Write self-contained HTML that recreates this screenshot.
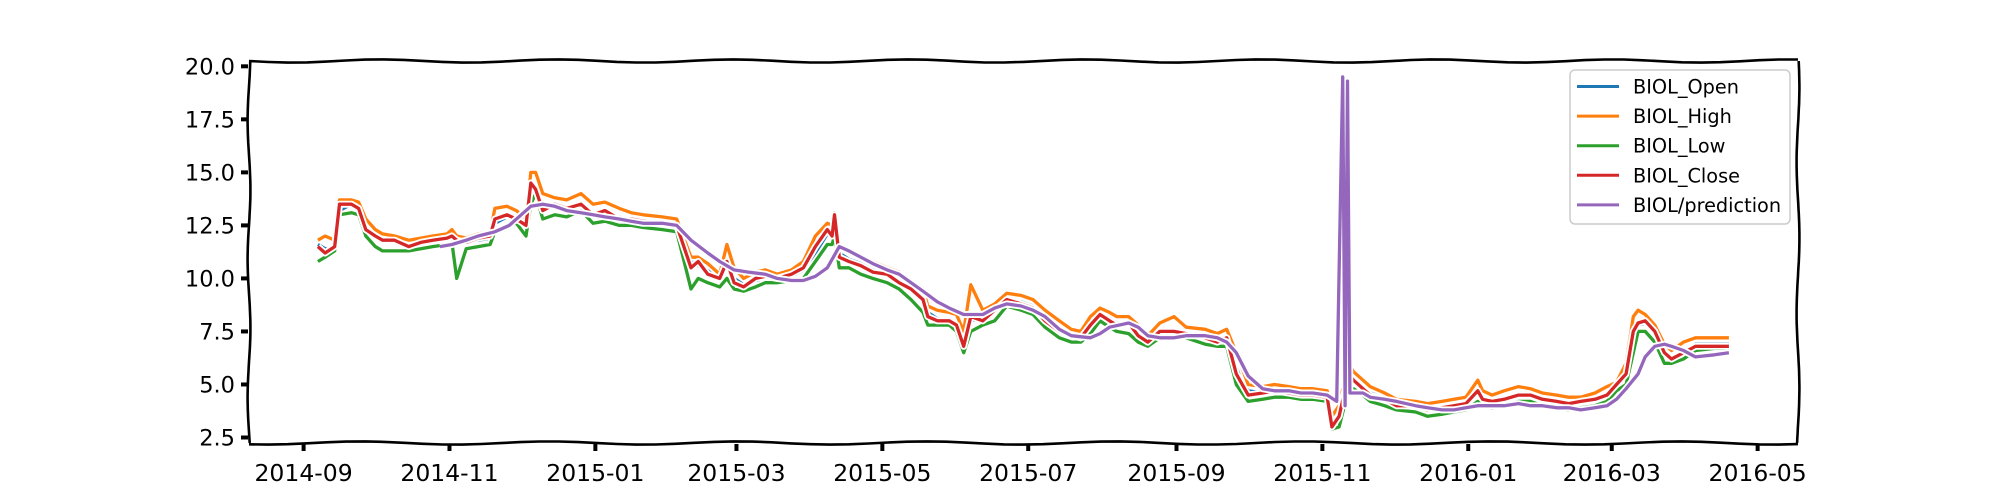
<!DOCTYPE html>
<html><head><meta charset="utf-8"><style>
body{margin:0;background:#fff;}
svg{display:block;font-family:"DejaVu Sans","Liberation Sans",sans-serif;}
</style></head><body>
<svg id="chart" width="2000" height="500" viewBox="0 0 2000 500" xmlns="http://www.w3.org/2000/svg">
<rect width="2000" height="500" fill="#fff"/>
<g id="series"></g>
<g id="frame"></g>
<g id="xaxis"></g>
<g id="yaxis"></g>
<g id="legend"></g>
</svg>
<script>
const startDate = "2014-09-01";
const days = [6,9,13,15,20,23,26,30,33,38,44,49,54,60,62,64,68,73,78,80,85,89,93,95,97,100,105,110,116,121,126,132,137,142,150,156,162,165,169,174,177,180,184,189,193,198,204,209,214,219,221,222,224,228,233,238,244,249,254,259,261,265,270,273,276,279,284,289,294,300,305,310,316,321,325,329,333,337,340,345,349,353,358,364,369,377,382,386,390,395,401,406,412,417,422,428,430,433,437,439,443,446,452,457,465,470,476,481,486,491,493,497,502,508,513,518,524,529,534,540,545,549,553,556,558,561,565,569,572,577,582,590,596];
const openVals = [11.6,11.4,11.3,13.2,13.5,13.4,12.6,12.1,11.9,11.8,11.6,11.6,11.7,11.8,11.9,11.9,11.7,11.8,11.9,12.6,12.9,12.9,12.6,14.2,14.4,13.4,13.4,13.4,13.4,13.1,13.1,12.9,12.8,12.7,12.6,12.5,10.8,10.6,10.4,10.1,10.6,10.0,9.7,9.9,10.0,10.0,10.1,10.4,11.2,12.1,12.1,12.8,11.2,10.9,10.7,10.4,10.2,9.9,9.6,9.1,8.4,8.1,8.0,7.9,7.0,8.0,8.1,8.4,8.9,8.9,8.7,8.1,7.6,7.3,7.2,7.7,8.2,8.1,7.9,7.9,7.4,7.1,7.4,7.5,7.4,7.3,7.1,7.2,5.8,4.7,4.6,4.7,4.6,4.5,4.5,4.4,3.2,3.3,5.3,5.3,4.9,4.6,4.4,4.1,4.0,3.8,3.9,4.0,4.1,4.6,4.4,4.2,4.3,4.4,4.5,4.3,4.2,4.1,4.2,4.3,4.4,4.9,5.4,7.2,7.8,7.9,7.6,6.7,6.3,6.5,6.9,6.9,6.9];
const highVals = [11.8,12.0,11.8,13.7,13.7,13.6,12.8,12.3,12.1,12.0,11.8,11.9,12.0,12.1,12.3,12.0,11.9,12.1,12.2,13.3,13.4,13.2,12.8,15.0,15.0,14.0,13.8,13.7,14.0,13.5,13.6,13.3,13.1,13.0,12.9,12.8,11.0,11.0,10.7,10.2,11.6,10.5,10.0,10.3,10.4,10.2,10.4,10.8,12.0,12.6,12.5,13.1,11.5,11.3,11.0,10.8,10.5,10.3,9.8,9.5,8.7,8.5,8.4,8.3,7.5,9.7,8.5,8.8,9.3,9.2,9.0,8.5,8.0,7.6,7.5,8.2,8.6,8.4,8.2,8.2,7.8,7.3,7.9,8.2,7.7,7.6,7.4,7.6,6.5,5.0,4.9,5.0,4.9,4.8,4.8,4.7,3.5,4.0,6.0,5.6,5.2,4.9,4.6,4.3,4.2,4.1,4.2,4.3,4.4,5.2,4.7,4.5,4.7,4.9,4.8,4.6,4.5,4.4,4.4,4.6,4.9,5.1,6.0,8.2,8.5,8.3,7.8,6.9,6.6,7.0,7.2,7.2,7.2];
const lowVals = [10.8,11.0,11.3,13.0,13.1,13.0,12.0,11.5,11.3,11.3,11.3,11.4,11.5,11.6,11.7,10.0,11.4,11.5,11.6,12.2,12.5,12.6,12.0,13.5,14.0,12.8,13.0,12.9,13.2,12.6,12.7,12.5,12.5,12.4,12.3,12.2,9.5,10.0,9.8,9.6,10.0,9.5,9.4,9.6,9.8,9.8,9.9,10.0,10.8,11.6,11.6,12.0,10.5,10.5,10.2,10.0,9.8,9.5,9.0,8.4,7.8,7.8,7.8,7.5,6.5,7.5,7.8,8.0,8.7,8.5,8.3,7.7,7.2,7.0,7.0,7.4,8.0,7.7,7.5,7.4,7.0,6.8,7.2,7.2,7.2,6.9,6.8,6.8,5.0,4.2,4.3,4.4,4.4,4.3,4.3,4.2,2.9,3.0,4.8,4.8,4.5,4.2,4.0,3.8,3.7,3.5,3.6,3.7,3.8,4.2,4.0,3.9,4.0,4.2,4.2,4.0,3.9,3.8,3.9,4.0,4.2,4.7,5.0,6.5,7.5,7.5,7.0,6.0,6.0,6.2,6.6,6.7,6.7];
const closeVals = [11.5,11.2,11.5,13.5,13.5,13.3,12.3,12.0,11.8,11.8,11.5,11.7,11.8,11.9,12.0,11.8,11.7,11.9,12.0,12.8,13.0,12.8,12.5,14.5,14.2,13.2,13.5,13.3,13.5,13.0,13.2,12.8,12.8,12.7,12.6,12.5,10.5,10.8,10.2,10.0,10.8,9.8,9.6,10.0,10.1,10.0,10.2,10.5,11.5,12.3,12.0,13.0,11.0,10.8,10.6,10.3,10.2,9.8,9.5,9.0,8.2,8.0,8.0,7.8,6.8,8.2,8.0,8.5,9.0,8.8,8.6,8.0,7.5,7.3,7.2,7.8,8.3,8.0,7.8,7.9,7.3,7.0,7.5,7.5,7.4,7.2,7.0,7.2,5.5,4.5,4.6,4.7,4.6,4.5,4.5,4.4,3.0,3.5,5.5,5.2,4.8,4.5,4.3,4.0,4.0,3.8,3.9,4.0,4.1,4.7,4.3,4.2,4.3,4.5,4.5,4.3,4.2,4.1,4.2,4.3,4.5,5.0,5.5,7.5,7.9,8.0,7.5,6.5,6.2,6.5,6.8,6.8,6.8];
const predDays = [57,62,68,73,80,86,91,95,100,105,110,116,121,126,132,137,142,150,156,162,169,174,180,186,193,198,204,209,214,219,224,228,233,238,244,249,254,259,265,270,276,284,289,294,300,305,310,316,321,329,333,337,345,349,353,358,364,369,377,382,386,390,395,401,406,412,417,422,428,432,434.5,435.5,436.5,437.5,443,446,452,457,465,470,476,481,486,491,497,502,508,513,518,524,529,534,540,545,549,553,558,561,565,569,572,577,582,590,596];
const predVals = [11.5,11.6,11.8,12.0,12.2,12.5,13.0,13.4,13.5,13.4,13.2,13.1,13.0,12.9,12.8,12.7,12.6,12.6,12.5,11.8,11.2,10.8,10.4,10.3,10.2,10.0,9.9,9.9,10.1,10.5,11.5,11.3,11.0,10.7,10.4,10.2,9.8,9.4,8.9,8.6,8.3,8.3,8.6,8.8,8.7,8.5,8.2,7.6,7.3,7.2,7.4,7.7,7.9,7.7,7.3,7.2,7.2,7.3,7.3,7.2,7.0,6.5,5.4,4.8,4.7,4.7,4.6,4.6,4.5,4.2,19.5,4.0,19.3,4.6,4.6,4.4,4.3,4.2,4.0,3.9,3.8,3.8,3.9,4.0,4.0,4.0,4.1,4.0,4.0,3.9,3.9,3.8,3.9,4.0,4.3,4.8,5.5,6.3,6.8,6.9,6.8,6.6,6.3,6.4,6.5];
const yTicks = [2.5,5.0,7.5,10.0,12.5,15.0,17.5,20.0];
const xTickDates = ["2014-09-01","2014-11-01","2015-01-01","2015-03-01","2015-05-01","2015-07-01","2015-09-01","2015-11-01","2016-01-01","2016-03-01","2016-05-01"];
const xTickLabels = ["2014-09","2014-11","2015-01","2015-03","2015-05","2015-07","2015-09","2015-11","2016-01","2016-03","2016-05"];
const seriesNames = ["BIOL_Open","BIOL_High","BIOL_Low","BIOL_Close","BIOL/prediction"];

const NS="http://www.w3.org/2000/svg";
const L=249,R=1798,T=61,B=443;
const X0=303.6, PXD=2.3915;
function dayOf(s){return (Date.parse(s)-Date.parse(startDate))/86400000;}
function xs(d){return X0+d*PXD;}
function ys(v){return 437.5-(v-2.5)*21.21;}
function mk(tag,attrs,parent){const e=document.createElementNS(NS,tag);for(const k in attrs)e.setAttribute(k,attrs[k]);parent.appendChild(e);return e;}
function wig(x1,y1,x2,y2,amp,per,ph){let p="";const n=80;for(let i=0;i<=n;i++){const t=i/n;let x=x1+(x2-x1)*t,y=y1+(y2-y1)*t;const len=Math.hypot(x2-x1,y2-y1);const w=amp*Math.sin(t*len/per+ph);if(y1===y2)y+=w;else x+=w;p+=(i?"L":"M")+x.toFixed(1)+","+y.toFixed(1);}return p;}

const sg=document.getElementById('series');
const colors=["#1f77b4","#ff7f0e","#2ca02c","#d62728","#9467bd"];
const order=[["open",openVals,days,0],["high",highVals,days,1],["low",lowVals,days,2],["close",closeVals,days,3],["prediction",predVals,predDays,4]];
order.forEach(([nm,vals,ds,ci])=>{
  let d="";vals.forEach((v,i)=>{d+=(i?"L":"M")+xs(ds[i]).toFixed(1)+","+ys(v).toFixed(1);});
  const o=mk('path',{d:d,fill:"none",stroke:"#fff","stroke-width":7,"stroke-linejoin":"round"},sg);
  
  
  const p=mk('path',{d:d,fill:"none",stroke:colors[ci],"stroke-width":3.3,"stroke-linejoin":"round"},sg);
  
  
});

const fg=document.getElementById('frame');
[[L,T,R,T,1.6,28,0],[L,B,R,B,1.6,30,1],[L,T,L,B,1.4,22,2],[R,T,R,B,1.4,24,0.5]].forEach((a,i)=>{
  const e=mk('path',{d:wig(...a),fill:"none",stroke:"#000","stroke-width":2.6},fg);
  
  
});

const xg=document.getElementById('xaxis');
xTickDates.forEach((s,i)=>{
  const x=xs(dayOf(s));
  const t=mk('line',{x1:x,y1:B+1,x2:x,y2:B+8,stroke:"#000","stroke-width":4},xg);
  
  
  const tx=mk('text',{x:x,y:B+38,"text-anchor":"middle","font-size":23.5,fill:"#000"},xg);
  tx.textContent=xTickLabels[i];
  
  
});
const yg=document.getElementById('yaxis');
yTicks.forEach(v=>{
  const y=ys(v);
  const t=mk('line',{x1:L-8,y1:y,x2:L-1,y2:y,stroke:"#000","stroke-width":4},yg);
  
  
  const tx=mk('text',{x:L-14,y:y+8,"text-anchor":"end","font-size":22.5,fill:"#000"},yg);
  tx.textContent=v.toFixed(1);
  
  
});

const lg=document.getElementById('legend');
const box=mk('rect',{x:1570,y:70,width:220,height:154,rx:5,fill:"#fff",stroke:"#ccc","stroke-width":1.5},lg);


seriesNames.forEach((n,i)=>{
  const y=86.5+i*29.6;
  const ln=mk('line',{x1:1577,y1:y,x2:1619,y2:y,stroke:colors[i],"stroke-width":3},lg);
  
  
  const tx=mk('text',{x:1633,y:y+7,"font-size":19.3,fill:"#000"},lg);
  tx.textContent=n;
  
  
});
</script>
</body></html>
